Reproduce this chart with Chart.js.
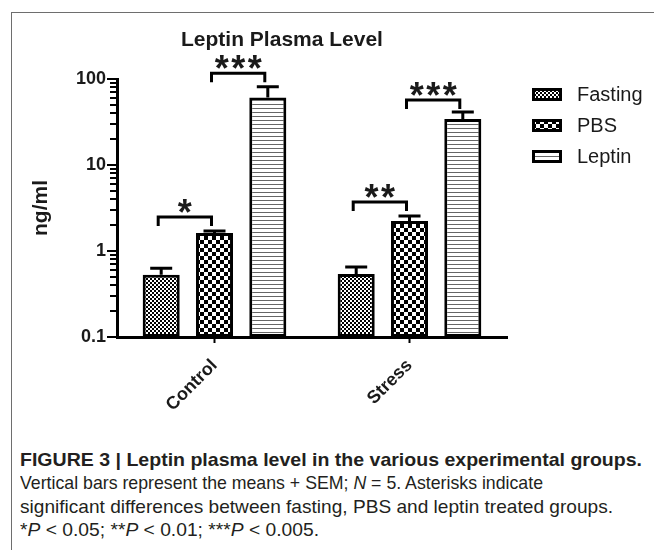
<!DOCTYPE html>
<html>
<head>
<meta charset="utf-8">
<script src="https://cdn.jsdelivr.net/npm/chart.js@4.4.0/dist/chart.umd.min.js"></script>
<style>
body { margin: 0; background: #fff; width: 654px; height: 550px; overflow: hidden; position: relative; font-family: "Liberation Sans", Arial, sans-serif; }
#frame { position: absolute; left: 11px; top: 12px; width: 700px; height: 600px; border: 1px solid #6e6e6e; }
#wrap { position: absolute; left: 0; top: 0; width: 654px; height: 430px; }
#title { position: absolute; left: 132px; top: 27px; width: 300px; text-align: center; font-size: 21px; line-height: 24px; font-weight: bold; color: #1a1a1a; }
#caption { position: absolute; left: 20px; top: 448px; font-size: 19px; line-height: 23.3px; color: #231f20; white-space: nowrap; }
#caption span { display: inline-block; transform-origin: 0 50%; }
</style>
</head>
<body>
<div id="frame"></div>
<div id="wrap"><canvas id="chart" width="654" height="430"></canvas></div>
<div id="title">Leptin Plasma Level</div>
<div id="caption">
<div><span><b>FIGURE 3 | Leptin plasma level in the various experimental groups.</b></span></div>
<div><span>Vertical bars represent the means + SEM; <i>N</i> = 5. Asterisks indicate</span></div>
<div><span>significant differences between fasting, PBS and leptin treated groups.</span></div>
<div><span>*<i>P</i> &lt; 0.05; **<i>P</i> &lt; 0.01; ***<i>P</i> &lt; 0.005.</span></div>
</div>
<script>
var categories = ['Control', 'Stress'];
var seriesNames = ['Fasting', 'PBS', 'Leptin'];
var fastingMean = [0.53, 0.54];
var pbsMean = [1.62, 2.23];
var leptinMean = [61, 34.3];
var fastingSem = [0.10, 0.11];
var pbsSem = [0.09, 0.32];
var leptinSem = [20, 7];

var yTickValues = [0.1, 0.2, 0.3, 0.4, 0.5, 0.6, 0.7, 0.8, 0.9,
                   1, 2, 3, 4, 5, 6, 7, 8, 9,
                   10, 20, 30, 40, 50, 60, 70, 80, 90, 100];
var yLabelValues = [0.1, 1, 10, 100];

// significance brackets: category, left series, right series, height (ng/ml), stars
var sigCategory = [0, 0, 1, 1];
var sigFrom = [0, 1, 0, 1];
var sigTo = [1, 2, 1, 2];
var sigLevel = [2.49, 117, 3.71, 57];
var sigStars = ['*', '***', '**', '***'];

// caption is set in a condensed face in the original, squeeze each line to its width
var captionWidths = [622, 523, 593, 299];
document.querySelectorAll('#caption span').forEach(function(s, i) {
    var w = s.getBoundingClientRect().width;
    s.style.transform = 'scaleX(' + (captionWidths[i] / w) + ')';
});

var fontFamily = '"Liberation Sans", Arial, sans-serif';
Chart.defaults.font.family = fontFamily;
Chart.defaults.color = '#1a1a1a';

function makePattern(kind) {
    var c = document.createElement('canvas');
    var x = c.getContext('2d');
    if (kind == 'fine') {
        c.width = 4; c.height = 4;
        x.fillStyle = '#fff'; x.fillRect(0, 0, 4, 4);
        x.fillStyle = '#000'; x.fillRect(0, 0, 2, 2); x.fillRect(2, 2, 2, 2);
    } else if (kind == 'coarse') {
        c.width = 8; c.height = 8;
        x.fillStyle = '#fff'; x.fillRect(0, 0, 8, 8);
        x.fillStyle = '#000'; x.fillRect(0, 0, 4, 4); x.fillRect(4, 4, 4, 4);
    } else {
        c.width = 4; c.height = 4;
        x.fillStyle = '#fff'; x.fillRect(0, 0, 4, 4);
        x.fillStyle = '#666'; x.fillRect(0, 0, 4, 1);
    }
    return x.createPattern(c, 'repeat');
}

var extras = {
    id: 'extras',
    afterDatasetsDraw: function(chart) {
        var ctx = chart.ctx;
        var y = chart.scales.y;
        var sems = [fastingSem, pbsSem, leptinSem];
        ctx.save();
        ctx.strokeStyle = '#000';
        ctx.lineWidth = 3;

        // error bars (upper only)
        chart.data.datasets.forEach(function(ds, i) {
            chart.getDatasetMeta(i).data.forEach(function(bar, j) {
                var top = y.getPixelForValue(ds.data[j] + sems[i][j]);
                ctx.beginPath();
                ctx.moveTo(bar.x, bar.y);
                ctx.lineTo(bar.x, top);
                ctx.moveTo(bar.x - 11, top);
                ctx.lineTo(bar.x + 11, top);
                ctx.stroke();
            });
        });

        // brackets and stars
        ctx.font = 'bold 36px ' + fontFamily;
        ctx.fillStyle = '#1a1a1a';
        ctx.textAlign = 'center';
        ctx.textBaseline = 'alphabetic';
        var m = ctx.measureText('*');
        var starShift = (m.actualBoundingBoxAscent - m.actualBoundingBoxDescent) / 2;
        sigLevel.forEach(function(level, k) {
            var a = chart.getDatasetMeta(sigFrom[k]).data[sigCategory[k]].x - 3;
            var b = chart.getDatasetMeta(sigTo[k]).data[sigCategory[k]].x - 3;
            var yy = y.getPixelForValue(level);
            ctx.beginPath();
            ctx.moveTo(a, yy + 9);
            ctx.lineTo(a, yy);
            ctx.lineTo(b, yy);
            ctx.lineTo(b, yy + 9);
            ctx.stroke();
            var n = sigStars[k].length;
            for (var s = 0; s < n; s++) {
                ctx.fillText('*', (a + b) / 2 + (s - (n - 1) / 2) * 16.5, yy - 11 + starShift);
            }
        });
        ctx.restore();
    },
    afterDraw: function(chart) {
        var ctx = chart.ctx;
        var y = chart.scales.y;
        var area = chart.chartArea;
        ctx.save();
        ctx.strokeStyle = '#000';

        // log ticks: long at decades, short in between
        ctx.lineWidth = 2;
        yTickValues.forEach(function(v) {
            var py = Math.round(y.getPixelForValue(v));
            var len = yLabelValues.indexOf(v) >= 0 ? 9 : 6;
            ctx.beginPath();
            ctx.moveTo(area.left, py);
            ctx.lineTo(area.left - 1 - len, py);
            ctx.stroke();
        });

        // legend
        ctx.font = '20px ' + fontFamily;
        ctx.textBaseline = 'middle';
        ctx.textAlign = 'left';
        chart.data.datasets.forEach(function(ds, i) {
            var cy = area.top + 15.5 + i * 31;
            var bx = area.right + 26.5;
            ctx.fillStyle = ds.backgroundColor;
            ctx.fillRect(bx, cy - 5, 27, 10);
            ctx.lineWidth = 3;
            ctx.strokeRect(bx, cy - 5, 27, 10);
            ctx.fillStyle = '#1a1a1a';
            ctx.fillText(ds.label, bx + 43.5, cy + 1);
        });
        ctx.restore();
    }
};

var chart = new Chart(document.getElementById('chart'), {
    type: 'bar',
    data: {
        labels: categories,
        datasets: [
            { label: seriesNames[0], data: fastingMean, backgroundColor: makePattern('fine') },
            { label: seriesNames[1], data: pbsMean, backgroundColor: makePattern('coarse') },
            { label: seriesNames[2], data: leptinMean, backgroundColor: makePattern('lines') }
        ]
    },
    options: {
        responsive: false,
        animation: false,
        devicePixelRatio: 1,
        datasets: {
            bar: {
                borderColor: '#000',
                borderWidth: 3,
                borderSkipped: false,
                categoryPercentage: 0.82,
                barPercentage: 0.695
            }
        },
        layout: { padding: { top: 79, right: 147, left: 0, bottom: 0 } },
        plugins: {
            legend: { display: false },
            tooltip: { enabled: false }
        },
        scales: {
            x: {
                grid: { drawOnChartArea: false, offset: false, tickLength: 6, tickWidth: 2, tickColor: '#000' },
                border: { color: '#000', width: 3 },
                ticks: {
                    font: { size: 18, weight: 'bold' },
                    minRotation: 45,
                    maxRotation: 45,
                    padding: 12,
                    autoSkip: false
                },
                afterFit: function(s) { s.height = 93; }
            },
            y: {
                type: 'logarithmic',
                min: 0.1,
                max: 100,
                grid: { display: false, drawTicks: false },
                border: { color: '#000', width: 3 },
                ticks: {
                    font: { size: 18, weight: 'bold' },
                    padding: 11,
                    autoSkip: false,
                    callback: function(v) {
                        return yLabelValues.indexOf(v) >= 0 ? String(v) : '';
                    }
                },
                afterBuildTicks: function(s) {
                    s.ticks = yTickValues.map(function(v) { return { value: v }; });
                },
                title: {
                    display: true,
                    text: 'ng/ml',
                    font: { size: 21, weight: 'bold' },
                    padding: { top: 29, bottom: 0 }
                },
                afterFit: function(s) { s.width = 117; }
            }
        }
    },
    plugins: [extras]
});
</script>
</body>
</html>
